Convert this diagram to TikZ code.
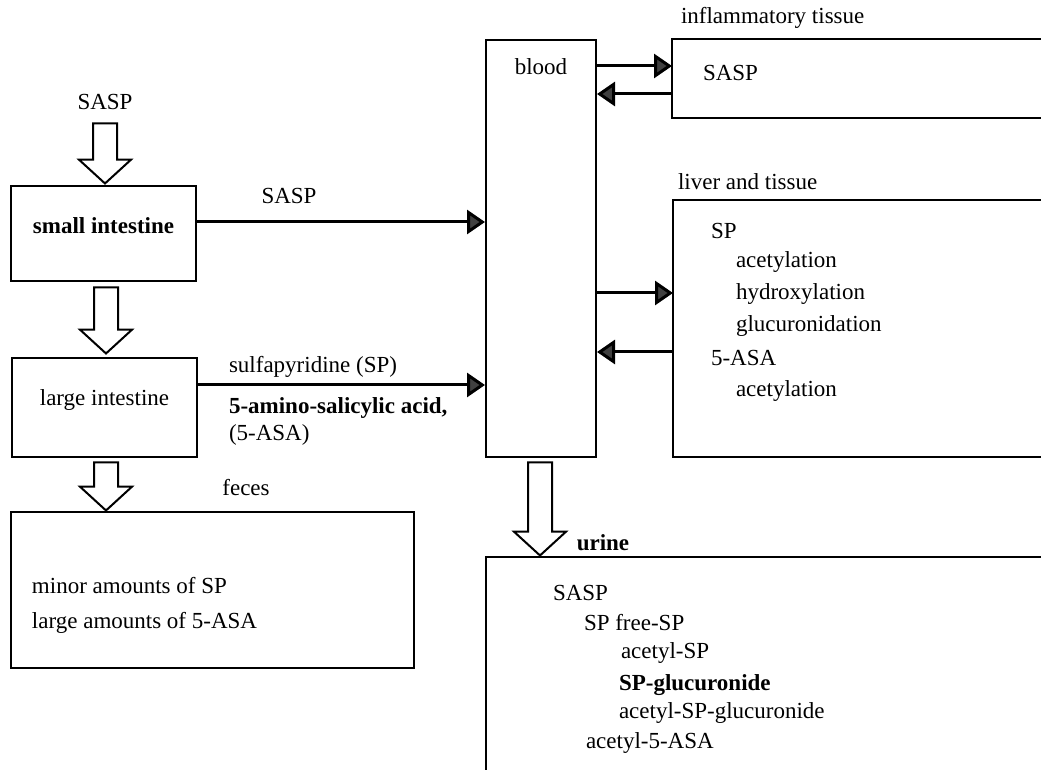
\documentclass[tikz,border=0pt]{standalone}
\usepackage{fontspec}
\setmainfont{Liberation Serif}
\usetikzlibrary{arrows.meta,shapes.arrows,fit}

\begin{document}
\fontsize{11.5}{14}\selectfont
\begin{tikzpicture}
  [x=0.5pt,y=-0.5pt,line width=1pt,
   every node/.style={inner sep=0pt},
   box/.style={draw,fit={#1}},
   fat/.style={draw,single arrow,rotate=-90,inner sep=5.5pt,
     single arrow head extend=7pt,single arrow tip angle=95,minimum height=#1},
   feed/.style={-{Triangle[length=9pt,width=12pt,fill=black!75]},line width=1.5pt}]

  \useasboundingbox (0,0) rectangle (1041,770);

  % gut
  \node (sasp) at (105,102) {SASP};
  \node[fat=30pt] (a1) at (105,148) {};
  \node[box={(11,186) (196,281)},font=\bfseries] (small) {small intestine};
  \node[fat=33pt] (a2) at (106,315) {};
  \node[box={(12,358) (197,457)}] (large) {large intestine};
  \node[fat=24pt] (a3) at (106,481) {};
  \node (fecl) at (246,488) {feces};
  \node[box={(11,512) (414,668)}] (feces) {};
  \node[anchor=west] (fec1) at (31,586) {minor amounts of SP};
  \node[anchor=west] (fec2) at (31,623) {large amounts of 5-ASA};

  % blood and urine
  \node[box={(486,40) (596,457)}] (blood) {};
  \node (bll) at (541,67) {blood};
  \node[fat=46.5pt] (a4) at (540,503.5) {};
  \node[font=\bfseries] (url) at (603,543) {urine};
  \draw (1041,557) -- (486,557) -- (486,770);
  \foreach \txt/\x/\y [count=\i] in {SASP/552/593, SP free-SP/583/623,
      acetyl-SP/620/653, \textbf{SP-glucuronide}/618/685,
      acetyl-SP-glucuronide/618/713, acetyl-5-ASA/585/743}
    \node[anchor=west] (uri\i) at (\x,\y) {\txt};

  % absorption
  \coordinate (y1) at (0,222);
  \coordinate (y2) at (0,385);
  \draw[feed] (small.east |- y1) -- (blood.west |- y1);
  \draw[feed] (large.east |- y2) -- (blood.west |- y2);
  \node (sasl) at (289,196) {SASP};
  \node[anchor=west] (spl) at (228,367) {sulfapyridine (SP)};
  \node[anchor=west,font=\bfseries] (asal) at (228,408) {5-amino-salicylic acid,};
  \node[anchor=west] (asal2) at (228,435) {(5-ASA)};

  % tissues
  \draw (1041,39) -- (672,39) -- (672,118) -- (1041,118);
  \coordinate (inf) at (672,78);
  \node[anchor=west] (infl) at (680,18) {inflammatory tissue};
  \node[anchor=west] (infs) at (702,73) {SASP};
  \coordinate (y3) at (0,66);
  \coordinate (y4) at (0,94);
  \draw[feed] (blood.east |- y3) -- (inf |- y3);
  \draw[feed] (inf |- y4) -- (blood.east |- y4);

  \draw (1041,200) -- (673,200) -- (673,457) -- (1041,457);
  \coordinate (liv) at (673,330);
  \node[anchor=west] (livl) at (677,182) {liver and tissue};
  \foreach \txt/\x/\y [count=\i] in {SP/710/231, acetylation/735/262,
      hydroxylation/735/294, glucuronidation/735/326, 5-ASA/710/358,
      acetylation/735/391}
    \node[anchor=west] (liv\i) at (\x,\y) {\txt};
  \coordinate (y5) at (0,293);
  \coordinate (y6) at (0,352);
  \draw[feed] (blood.east |- y5) -- (liv |- y5);
  \draw[feed] (liv |- y6) -- (blood.east |- y6);
\end{tikzpicture}
\end{document}
